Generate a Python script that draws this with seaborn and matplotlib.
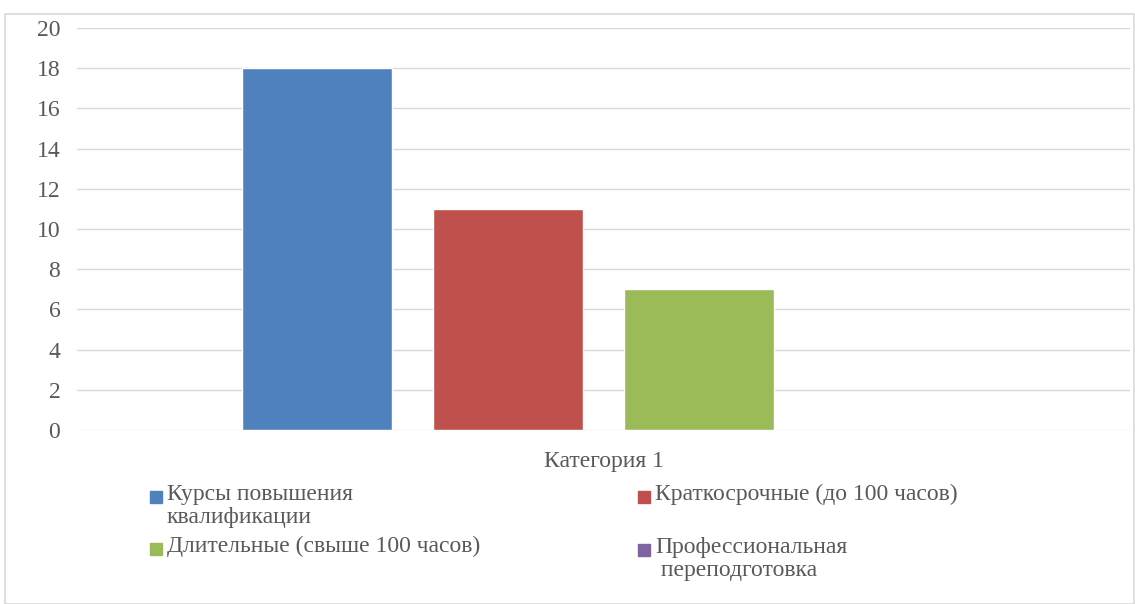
import pandas as pd
import matplotlib.pyplot as plt
import seaborn as sns
from matplotlib.patches import Rectangle

# Data
categories = ['Категория 1']
series = ['Курсы повышения\nквалификации', 'Краткосрочные (до 100 часов)',
          'Длительные (свыше 100 часов)', 'Профессиональная\n переподготовка']
values = [18, 11, 7, 0]
colors = ['#4F81BD', '#C0504D', '#9BBB59', '#8064A2']
y_ticks = [0, 2, 4, 6, 8, 10, 12, 14, 16, 18, 20]

FONT = 'Liberation Serif'
sns.set_theme(style="white", font=FONT)
plt.rcParams['font.family'] = 'sans-serif'
plt.rcParams['font.sans-serif'] = [FONT, 'DejaVu Sans']
plt.rcParams['font.serif'] = [FONT, 'DejaVu Serif']
text_color = '#595959'
grid_color = '#d9d9d9'

df = pd.DataFrame({'category': categories * len(series),
                   'series': series,
                   'value': values})

fig = plt.figure(figsize=(11.35, 6.04), dpi=100)
W, H = 1135, 604
ax = fig.add_axes([77 / W, 1 - 430 / H, (1130 - 77) / W, (430 - 28) / H])

sns.barplot(data=df, x='category', y='value', hue='series', palette=colors,
            hue_order=series, width=0.725, gap=0.213, saturation=1,
            legend=False, ax=ax)

ax.set_ylim(0, 20)
ax.set_xlim(-0.5, 0.5)
ax.set_yticks(y_ticks)
ax.yaxis.grid(True, color=grid_color, linewidth=1.0)
ax.set_axisbelow(True)
for s in ax.spines.values():
    s.set_visible(False)
ax.tick_params(axis='y', length=0, pad=12, labelsize=17, labelcolor=text_color)
ax.tick_params(axis='x', length=0, pad=15, labelsize=17, labelcolor=text_color)
for lbl in ax.get_xticklabels() + ax.get_yticklabels():
    lbl.set_family(FONT)
ax.set_xlabel('')
ax.set_ylabel('')

# Outer chart border
fig.patches.append(Rectangle((5 / W, 0.5 / H), (W - 6) / W, (H - 14.5) / H,
                             transform=fig.transFigure, fill=False,
                             edgecolor=grid_color, linewidth=1.2))

# Legend (two columns, Excel style)
legend_pos = [(150, 497), (638, 497), (150, 549), (638, 550)]
for (lx, ly), name, c in zip(legend_pos, series, colors):
    fig.patches.append(Rectangle((lx / W, 1 - (ly + 6) / H), 12 / W, 12 / H,
                                 transform=fig.transFigure, color=c))
    fig.text((lx + 17) / W, 1 - (ly - 13) / H, name, fontsize=17, family=FONT,
             color=text_color, va='top', ha='left', linespacing=1.1)

plt.savefig('out.png', dpi=100)
